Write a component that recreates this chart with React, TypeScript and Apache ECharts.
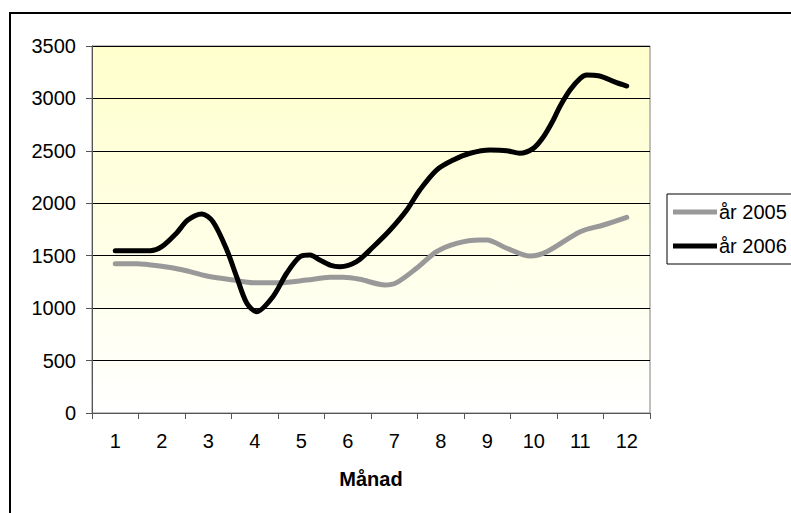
import React, { useEffect, useRef } from "react";
import * as echarts from "echarts";

const monthLabels = ["1", "2", "3", "4", "5", "6", "7", "8", "9", "10", "11", "12"];
const yTicks = [0, 500, 1000, 1500, 2000, 2500, 3000, 3500];

const months2005 = [1.0, 1.46, 1.96, 2.46, 2.97, 3.54, 3.97, 4.54, 5.12, 5.62, 5.9, 6.26, 6.8, 7.05, 7.48, 7.91, 8.34, 8.84, 8.99, 9.42, 9.92, 10.28, 11.0, 11.5, 12.0];
const values2005 = [1424, 1424, 1402, 1364, 1307, 1268, 1243, 1243, 1268, 1294, 1294, 1275, 1221, 1243, 1380, 1538, 1618, 1650, 1650, 1571, 1497, 1538, 1729, 1793, 1866];

const months2006 = [1.0, 1.75, 2.0, 2.32, 2.56, 2.86, 3.1, 3.4, 3.61, 3.83, 4.04, 4.39, 4.69, 4.97, 5.19, 5.4, 5.62, 5.83, 6.19, 6.55, 6.91, 7.27, 7.55, 7.91, 8.27, 8.63, 9.06, 9.42, 9.7, 9.99, 10.21, 10.42, 10.56, 10.78, 11.0, 11.14, 11.39, 11.78, 12.0];
const values2006 = [1548, 1548, 1586, 1717, 1840, 1898, 1825, 1555, 1300, 1046, 966, 1109, 1335, 1490, 1507, 1459, 1411, 1395, 1443, 1586, 1745, 1936, 2127, 2317, 2413, 2477, 2508, 2502, 2477, 2524, 2635, 2794, 2921, 3080, 3192, 3223, 3217, 3150, 3118];

const seriesNames = ["år 2005", "år 2006"];
const FONT = "'Liberation Sans', Arial, sans-serif";

export default function App() {
  const ref = useRef<HTMLDivElement>(null);
  useEffect(() => {
    if (!ref.current) return;
    const chart = echarts.init(ref.current, null, { renderer: "svg" });
    const pairs = (xs: number[], ys: number[]) => xs.map((x, i) => [x, ys[i]]);
    chart.setOption({
      animation: false,
      backgroundColor: "#ffffff",
      textStyle: { fontFamily: FONT },
      graphic: [
        {
          type: "rect",
          shape: { x: 10, y: 13, width: 900, height: 600 },
          style: { fill: "none", stroke: "#000", lineWidth: 2 },
          silent: true,
          z: -10,
        },
      ],
      grid: {
        left: 92,
        top: 46,
        width: 558,
        height: 367,
        show: true,
        borderColor: "#808080",
        borderWidth: 1,
        backgroundColor: new echarts.graphic.LinearGradient(0, 0, 0, 1, [
          { offset: 0, color: "#FFFFCC" },
          { offset: 1, color: "#FFFFFF" },
        ]),
      },
      legend: {
        orient: "vertical",
        left: 667,
        top: 194,
        data: seriesNames,
        icon: "rect",
        itemWidth: 44,
        itemHeight: 5,
        itemGap: 14,
        padding: [8, 60, 8, 6],
        borderColor: "#000",
        borderWidth: 1,
        backgroundColor: "#fff",
        textStyle: { fontFamily: FONT, fontSize: 20, color: "#000", padding: [0, 0, 0, -3] },
      },
      xAxis: [
        {
          type: "category",
          data: monthLabels,
          boundaryGap: true,
          axisLine: { lineStyle: { color: "#555", width: 1 } },
          axisTick: { show: true, alignWithLabel: false, length: 6, lineStyle: { color: "#555" } },
          axisLabel: { fontSize: 20, color: "#000", margin: 18, fontFamily: FONT },
          name: "Månad",
          nameLocation: "middle",
          nameGap: 56,
          nameTextStyle: { fontSize: 20, fontWeight: "bold", color: "#000", fontFamily: FONT },
          splitLine: { show: false },
        },
        {
          type: "value",
          min: 0.5,
          max: 12.5,
          show: false,
          splitLine: { show: false },
        },
      ],
      yAxis: {
        type: "value",
        min: yTicks[0],
        max: yTicks[yTicks.length - 1],
        interval: 500,
        axisLine: { show: true, lineStyle: { color: "#555", width: 1 } },
        axisTick: { show: true, length: 6, lineStyle: { color: "#555" } },
        axisLabel: {
          fontSize: 20,
          color: "#000",
          margin: 16,
          fontFamily: FONT,
          formatter: (v: number) => String(v),
        },
        splitLine: { show: true, lineStyle: { color: "#000", width: 1 } },
      },
      series: [
        {
          name: seriesNames[0],
          type: "line",
          xAxisIndex: 1,
          data: pairs(months2005, values2005),
          smooth: 0.3,
          symbol: "none",
          lineStyle: { color: "#999999", width: 5, cap: "round", join: "round" },
          itemStyle: { color: "#999999" },
          z: 3,
        },
        {
          name: seriesNames[1],
          type: "line",
          xAxisIndex: 1,
          data: pairs(months2006, values2006),
          smooth: 0.3,
          symbol: "none",
          lineStyle: { color: "#000000", width: 5, cap: "round", join: "round" },
          itemStyle: { color: "#000000" },
          z: 4,
        },
      ],
    });
    return () => chart.dispose();
  }, []);
  return (
    <div
      ref={ref}
      style={{ position: "absolute", left: 0, top: 0, width: 791, height: 513 }}
    />
  );
}
